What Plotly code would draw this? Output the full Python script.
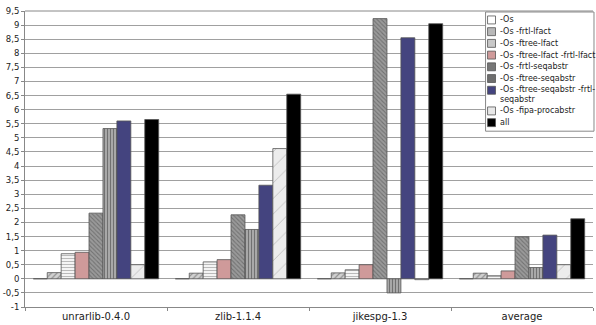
import plotly.graph_objects as go

categories = ["unrarlib-0.4.0", "zlib-1.1.4", "jikespg-1.3", "average"]

series_names = [
    "-Os",
    "-Os -frtl-lfact",
    "-Os -ftree-lfact",
    "-Os -ftree-lfact -frtl-lfact",
    "-Os -frtl-seqabstr",
    "-Os -ftree-seqabstr",
    "-Os -ftree-seqabstr -frtl-<br>seqabstr",
    "-Os -fipa-procabstr",
    "all",
]

v_os = [0, 0, 0, 0]
v_frtl_lfact = [0.22, 0.2, 0.21, 0.2]
v_ftree_lfact = [0.89, 0.6, 0.32, 0.11]
v_ftree_frtl_lfact = [0.94, 0.68, 0.5, 0.28]
v_frtl_seqabstr = [2.33, 2.27, 9.23, 1.49]
v_ftree_seqabstr = [5.33, 1.75, -0.5, 0.4]
v_ftree_frtl_seqabstr = [5.6, 3.32, 8.55, 1.55]
v_fipa_procabstr = [0.5, 4.62, -0.03, 0.5]
v_all = [5.65, 6.55, 9.05, 2.13]

values = [v_os, v_frtl_lfact, v_ftree_lfact, v_ftree_frtl_lfact, v_frtl_seqabstr,
          v_ftree_seqabstr, v_ftree_frtl_seqabstr, v_fipa_procabstr, v_all]

y_ticks = [x / 2 for x in range(-2, 20)]
y_ticktext = [("%g" % t).replace(".", ",") for t in y_ticks]

styles = [
    dict(color="#ffffff"),
    dict(color="#c8c8c8", pattern=dict(shape="/", fgcolor="#555555", bgcolor="#d0d0d0", size=4, solidity=0.3)),
    dict(color="#ffffff", pattern=dict(shape="-", fgcolor="#808080", bgcolor="#f4f4f4", size=3, solidity=0.35)),
    dict(color="#cf9a9a"),
    dict(color="#8a8a8a", pattern=dict(shape="\\", fgcolor="#4a4a4a", bgcolor="#9a9a9a", size=3, solidity=0.35)),
    dict(color="#8a8a8a", pattern=dict(shape="|", fgcolor="#3a3a3a", bgcolor="#a8a8a8", size=3, solidity=0.35)),
    dict(color="#44447f"),
    dict(color="#e8e8e8", pattern=dict(shape="/", fgcolor="#909090", bgcolor="#ececec", size=11, solidity=0.08)),
    dict(color="#000000"),
]
swatch_colors = ["#ffffff", "#b8b8b8", "#c8c8c8", "#cf9a9a", "#777777",
                 "#6e6e6e", "#44447f", "#e8e8e8", "#000000"]

W, H = 596, 325
ML, MR, MT, MB = 22, 3, 11, 16
PW, PH = W - ML - MR, H - MT - MB


def px(x):
    return (x - ML) / PW


def py(y):
    return (H - MB - y) / PH


fig = go.Figure()
for name, vals, st in zip(series_names, values, styles):
    marker = dict(line=dict(color="#555555", width=0.8))
    marker.update(st)
    fig.add_trace(go.Bar(name=name.replace("<br>", ""), x=categories, y=vals, marker=marker,
                         showlegend=False))

# manual compact legend
fig.add_shape(type="rect", xref="paper", yref="paper",
              x0=px(485), x1=px(594), y0=py(132), y1=py(12),
              line=dict(color="#888888", width=1), fillcolor="white", layer="above")
cy = 20.0
for name, col in zip(series_names, swatch_colors):
    nlines = name.count("<br>") + 1
    center = cy + (nlines - 1) * 4.5
    fig.add_shape(type="rect", xref="paper", yref="paper",
                  x0=px(487), x1=px(495), y0=py(cy + 4), y1=py(cy - 4),
                  line=dict(color="#555555", width=0.8), fillcolor=col, layer="above")
    fig.add_annotation(text=name, xref="paper", yref="paper", x=px(497.5), y=py(center),
                       xanchor="left", yanchor="middle", align="left", showarrow=False,
                       font=dict(size=8, color="#222222"))
    cy += 11.8 + (nlines - 1) * 9

fig.update_layout(
    width=W, height=H,
    margin=dict(l=ML, r=MR, t=MT, b=MB),
    paper_bgcolor="white", plot_bgcolor="white",
    barmode="group", bargap=0.117, bargroupgap=0,
    font=dict(family="DejaVu Sans", size=9, color="#222222"),
    showlegend=False,
)
fig.update_xaxes(
    showline=True, linecolor="#888888", linewidth=1,
    ticks="outside", tickson="boundaries", ticklen=3, tickcolor="#888888",
    tickfont=dict(size=10), showgrid=False,
)
fig.update_yaxes(
    range=[-1, 9.5], tickvals=y_ticks, ticktext=y_ticktext,
    showline=True, linecolor="#888888", linewidth=1,
    ticks="outside", ticklen=3, tickcolor="#888888",
    showgrid=True, gridcolor="#a0a0a0", gridwidth=1,
    zeroline=False, mirror=False, tickfont=dict(size=8.5),
)
fig.add_shape(type="line", xref="paper", yref="paper", x0=0, x1=1, y0=1, y1=1,
              line=dict(color="#888888", width=1))

fig.write_html("out.html")
